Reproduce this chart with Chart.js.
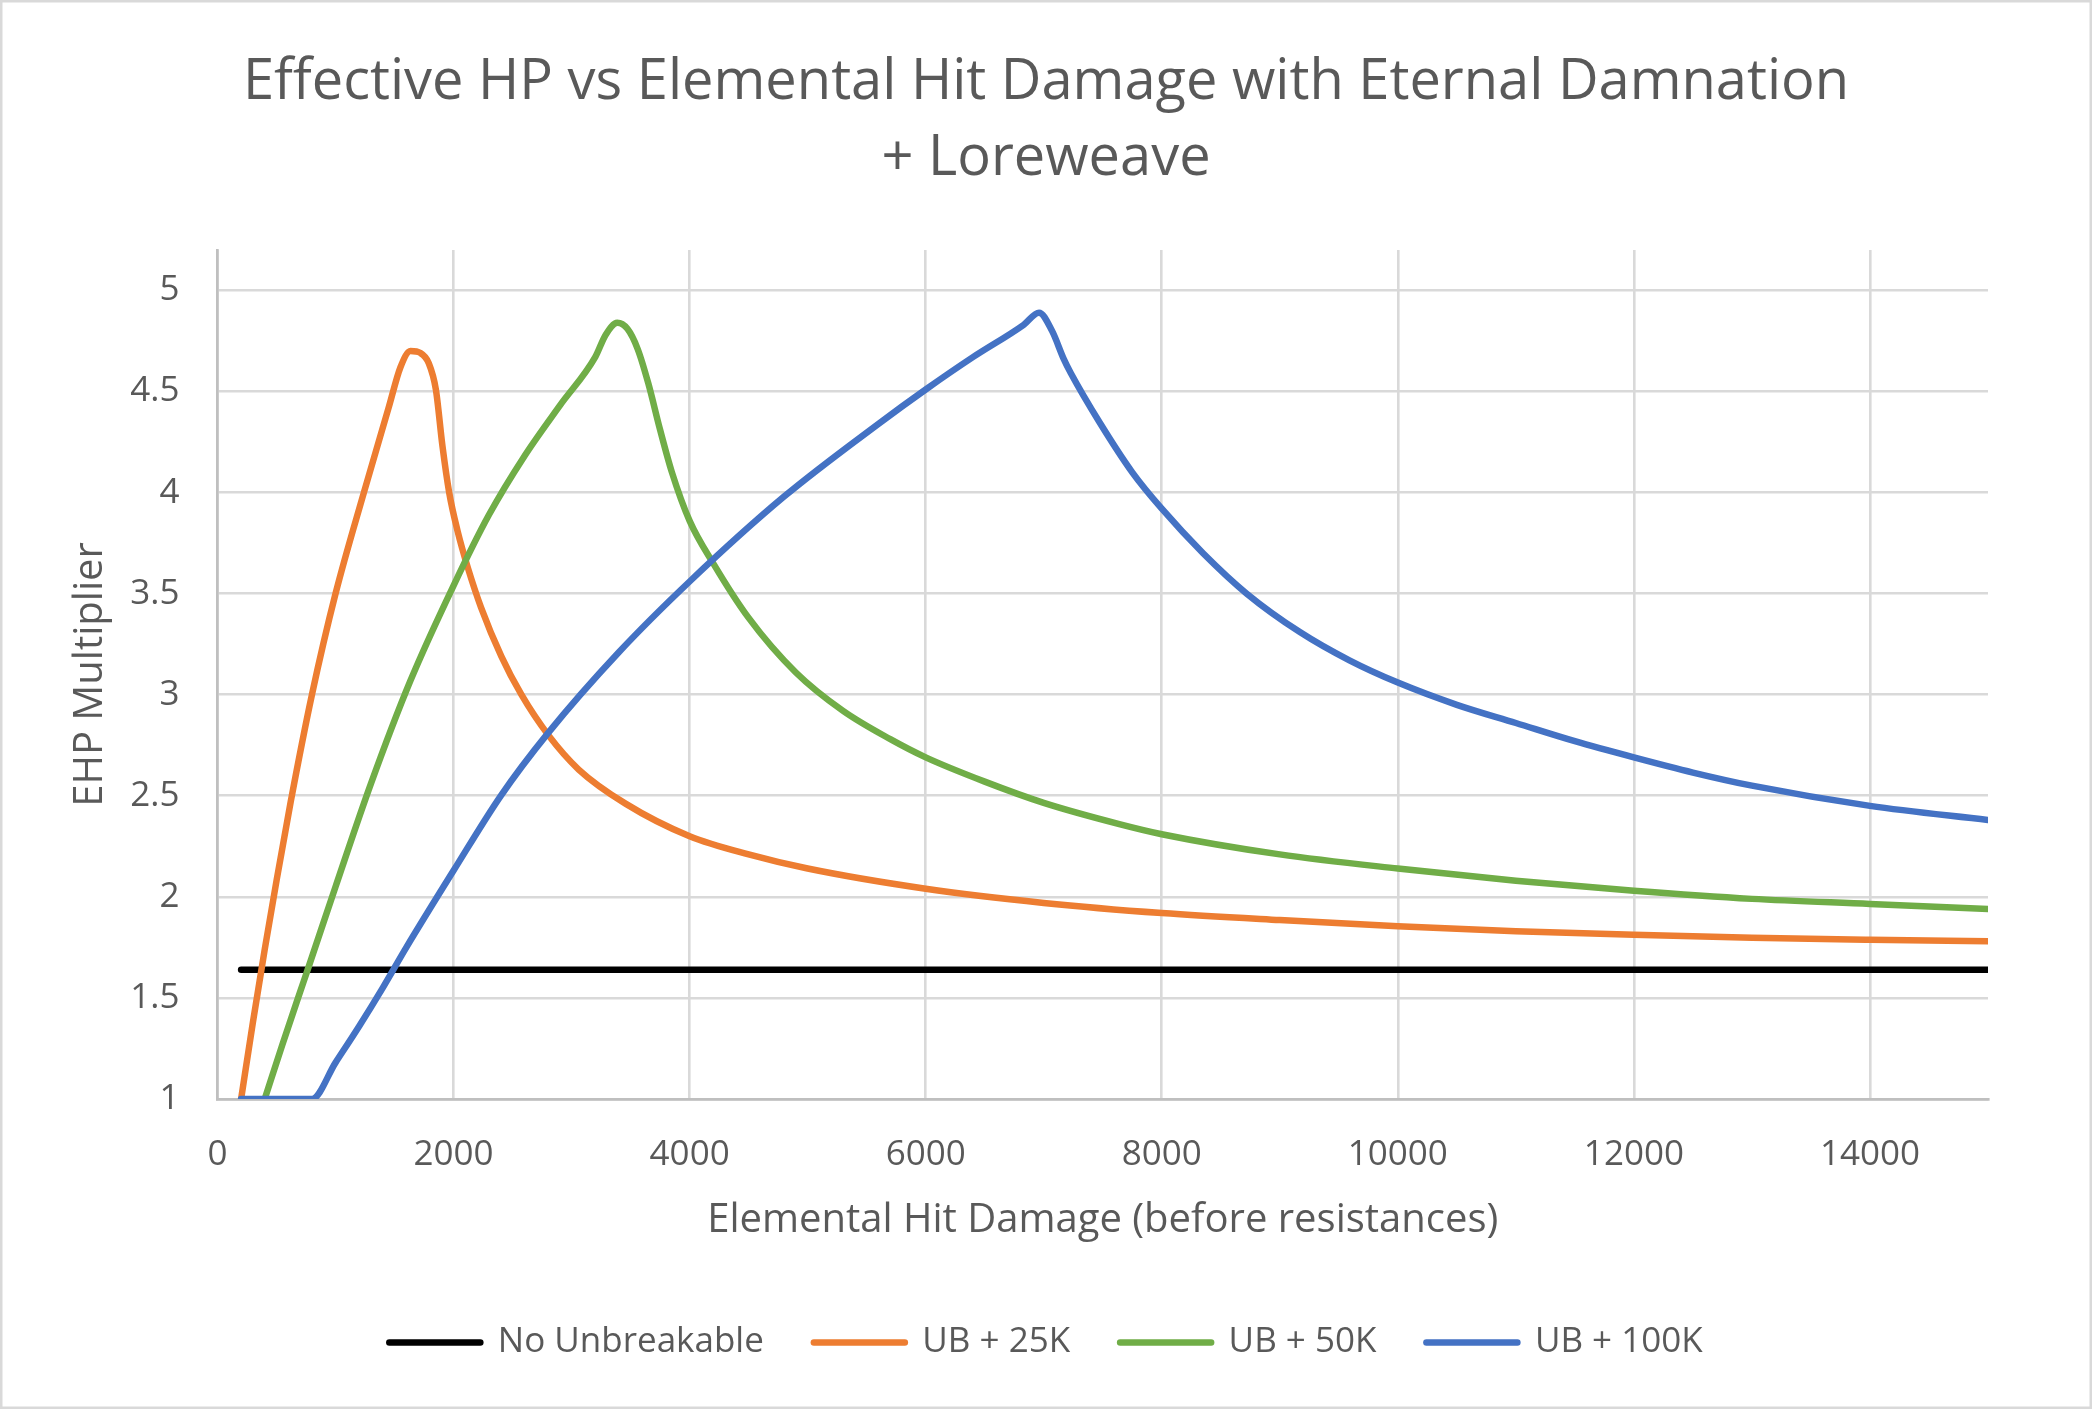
<!DOCTYPE html>
<html>
<head>
<meta charset="utf-8">
<script src="https://cdn.jsdelivr.net/npm/chart.js@4.4.1/dist/chart.umd.min.js"></script>
<style>
  html, body { margin: 0; padding: 0; background: #fff; overflow: hidden; }
  #wrap { width: 2092px; height: 1409px; position: relative; }
</style>
</head>
<body>
<div id="wrap"><canvas id="myChart"></canvas></div>
<script>
// values
const seriesNames = ['No Unbreakable', 'UB + 25K', 'UB + 50K', 'UB + 100K'];

const noUbX = [200, 15000];
const noUbY = [1.64, 1.64];

const ub25kX = [200, 300, 400, 500, 620, 800, 1000, 1240, 1450, 1550, 1635, 1720, 1790, 1850, 1906, 1963, 2034, 2120, 2234, 2405, 2575, 2803, 3060, 3460, 4000, 4500, 5000, 6000, 7000, 8000, 9000, 10000, 11000, 12000, 13000, 14000, 15000];
const ub25kY = [1.00, 1.38, 1.74, 2.08, 2.47, 3.00, 3.50, 4.00, 4.42, 4.62, 4.70, 4.69, 4.64, 4.51, 4.23, 4.00, 3.81, 3.63, 3.43, 3.19, 3.00, 2.80, 2.63, 2.46, 2.30, 2.21, 2.14, 2.04, 1.97, 1.92, 1.885, 1.855, 1.83, 1.812, 1.798, 1.788, 1.78];

const ub50kX = [400, 550, 700, 767, 1000, 1300, 1635, 2000, 2300, 2600, 2900, 3200, 3288, 3387, 3473, 3560, 3650, 3750, 3850, 4000, 4200, 4500, 4900, 5300, 5700, 6000, 6500, 7000, 7640, 8000, 9000, 10000, 11000, 12000, 13000, 14000, 15000];
const ub50kY = [1.00, 1.27, 1.53, 1.645, 2.05, 2.56, 3.07, 3.54, 3.89, 4.18, 4.43, 4.67, 4.78, 4.84, 4.81, 4.71, 4.54, 4.31, 4.10, 3.86, 3.65, 3.38, 3.11, 2.92, 2.78, 2.69, 2.57, 2.465, 2.36, 2.31, 2.21, 2.14, 2.08, 2.03, 1.99, 1.965, 1.94];

const ub100kX = [200, 500, 800, 1000, 1200, 1400, 1600, 2000, 2400, 2800, 3400, 4000, 4800, 5600, 6000, 6400, 6830, 6960, 7070, 7170, 7230, 7470, 7750, 8000, 8350, 8720, 9170, 9590, 10000, 10500, 11000, 11500, 12000, 12500, 13000, 14000, 15000];
const ub100kY = [1.00, 1.00, 1.00, 1.18, 1.36, 1.55, 1.75, 2.13, 2.50, 2.81, 3.21, 3.56, 3.98, 4.34, 4.51, 4.67, 4.83, 4.89, 4.80, 4.66, 4.59, 4.35, 4.10, 3.92, 3.70, 3.50, 3.31, 3.17, 3.06, 2.95, 2.86, 2.77, 2.69, 2.615, 2.55, 2.45, 2.38];

const xTicks = [0, 2000, 4000, 6000, 8000, 10000, 12000, 14000];
const yTicks = [1, 1.5, 2, 2.5, 3, 3.5, 4, 4.5, 5];

const seriesColors = ['#000000', '#ED7D31', '#70AD47', '#4472C4'];
const textColor = '#595959';

Chart.defaults.font.family = "'Open Sans', 'Noto Sans', sans-serif";

const toPoints = (xs, ys) => xs.map((x, i) => ({ x: x, y: ys[i] }));
const allX = [noUbX, ub25kX, ub50kX, ub100kX];
const allY = [noUbY, ub25kY, ub50kY, ub100kY];

const data = {
  datasets: seriesNames.map((name, i) => ({
    label: name,
    data: toPoints(allX[i], allY[i]),
    borderColor: seriesColors[i],
    backgroundColor: seriesColors[i],
    pointBorderColor: seriesColors[i],
    borderWidth: 6.5,
    pointBorderWidth: 6.5,
    borderCapStyle: 'round',
    borderJoinStyle: 'round',
    cubicInterpolationMode: 'monotone',
    pointRadius: 0,
    pointHoverRadius: 0,
    fill: false,
    order: seriesNames.length - i, // later series drawn on top, like Excel
  })),
};

// white background and the thin grey frame round the chart
const frame = {
  id: 'frame',
  beforeDraw(chart) {
    const { ctx, width, height } = chart;
    ctx.save();
    ctx.fillStyle = '#ffffff';
    ctx.fillRect(0, 0, width, height);
    ctx.restore();
  },
  afterDraw(chart) {
    const { ctx, width, height } = chart;
    ctx.save();
    ctx.strokeStyle = '#d9d9d9';
    ctx.lineWidth = 2.5;
    ctx.strokeRect(1.25, 1.25, width - 2.5, height - 2.5);
    ctx.restore();
  },
};

const config = {
  type: 'line',
  data: data,
  options: {
    responsive: true,
    maintainAspectRatio: false,
    animation: false,
    layout: { padding: { left: 0, right: 0, top: 0, bottom: 39 } },
    plugins: {
      title: {
        display: true,
        text: ['Effective HP vs Elemental Hit Damage with Eternal Damnation', '+ Loreweave'],
        color: textColor,
        font: { size: 56, weight: 'normal', lineHeight: 76 / 56 },
        padding: { top: 45, bottom: 53 },
      },
      legend: {
        position: 'bottom',
        labels: {
          color: textColor,
          font: { size: 35 },
          usePointStyle: true,
          pointStyle: 'line',
          pointStyleWidth: 91,
          padding: 50,
          generateLabels(chart) {
            return Chart.defaults.plugins.legend.labels.generateLabels(chart)
              .map((item) => ({ ...item, lineCap: 'round', lineWidth: 6.5 }))
              .sort((a, b) => a.datasetIndex - b.datasetIndex);
          },
        },
      },
      tooltip: { enabled: false },
    },
    scales: {
      x: {
        type: 'linear',
        min: 0,
        max: 15000,
        ticks: { autoSkip: false, padding: 35, color: textColor, font: { size: 35 }, callback: (v) => String(v) },
        afterBuildTicks(scale) {
          scale.ticks = xTicks.map((v) => ({ value: v }));
        },
        afterFit(scale) { scale.height = 176; },
        grid: { color: '#d9d9d9', lineWidth: 2.6, drawTicks: false },
        border: { color: '#bfbfbf', width: 2.7 },
        title: {
          display: true,
          text: 'Elemental Hit Damage (before resistances)',
          color: textColor,
          font: { size: 40 },
          padding: { top: 0, bottom: 30 },
        },
      },
      y: {
        type: 'linear',
        min: 1,
        max: 5.2,
        ticks: { autoSkip: false, padding: 38, color: textColor, font: { size: 35 }, callback: (v) => String(v) },
        afterBuildTicks(scale) {
          scale.ticks = yTicks.map((v) => ({ value: v }));
        },
        afterFit(scale) { scale.width = 217.5; },
        grid: { color: '#d9d9d9', lineWidth: 2.6, drawTicks: false },
        border: { color: '#bfbfbf', width: 2.7 },
        title: {
          display: true,
          text: 'EHP Multiplier',
          color: textColor,
          font: { size: 40 },
          padding: { top: 67, bottom: 0 },
        },
      },
      // empty right gutter, keeps the plot area where it is in the picture
      gutter: {
        type: 'linear',
        position: 'right',
        display: true,
        ticks: { display: false },
        grid: { display: false },
        border: { display: false },
        afterFit(scale) { scale.width = 104; },
      },
    },
  },
  plugins: [frame],
};

const ctx = document.getElementById('myChart');
new Chart(ctx, config);
</script>
</body>
</html>
